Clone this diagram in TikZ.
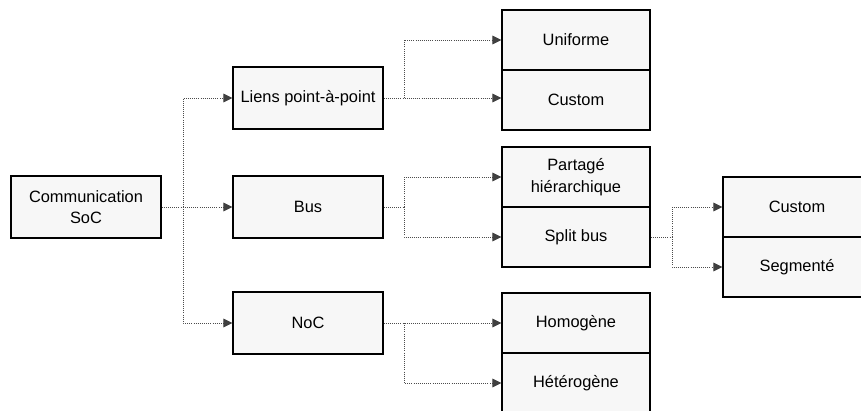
\documentclass[tikz,border=0pt]{standalone}
\usepackage{fontspec}
\setmainfont{Liberation Sans}
\usepackage{tikz}
\usetikzlibrary{arrows.meta, positioning, calc}

\begin{document}
\begin{tikzpicture}[
    x=0.03cm, y=-0.03cm,
    bloc/.style={
        rectangle, draw, line width=1pt, fill=gray!6,
        minimum width=4.5cm, minimum height=1.86cm,
        align=center, font=\fontsize{14}{18.5}\selectfont
    },
    feuille/.style={bloc, minimum width=4.44cm, minimum height=1.8cm},
    lien/.style={densely dotted, line width=0.8pt, gray!60!black},
    fleche/.style={lien, -{Triangle[length=0.27cm, width=0.26cm, color=gray!50!black]}}
]
\useasboundingbox (0,0) rectangle (861,410);

\node[bloc]    (soc)   at (86,207)   {Communication\\SoC};
\node[bloc]    (liens) at (308,98)   {Liens point-à-point};
\node[bloc]    (bus)   at (308,207)  {Bus};
\node[bloc]    (noc)   at (308,323)  {NoC};

\node[feuille] (unif)  at (576,40)   {Uniforme};
\node[feuille] (custA) at (576,100)  {Custom};
\node[feuille] (part)  at (576,177)  {Partagé\\hiérarchique};
\node[feuille] (split) at (576,237)  {Split bus};
\node[feuille] (homo)  at (576,323)  {Homogène};
\node[feuille] (hete)  at (576,383)  {Hétérogène};
\node[feuille] (custB) at (797,207)  {Custom};
\node[feuille] (segm)  at (797,267)  {Segmenté};

\coordinate (tronc)  at (183,207);
\coordinate (fourchA) at (404,98);
\coordinate (fourchB) at (404,207);
\coordinate (fourchC) at (404,323);
\coordinate (fourchD) at (672,237);

\draw[fleche] (soc) -- (bus);
\draw[fleche] (tronc) |- (liens);
\draw[fleche] (tronc) |- (noc);

\draw[fleche] (liens.east) -- (liens.east -| custA.west);
\draw[fleche] (fourchA) |- (unif);

\draw[lien] (bus) -- (fourchB);
\draw[fleche] (fourchB) |- (part);
\draw[fleche] (fourchB) |- (split);

\draw[fleche] (noc) -- (homo);
\draw[fleche] (fourchC) |- (hete);

\draw[lien] (split) -- (fourchD);
\draw[fleche] (fourchD) |- (custB);
\draw[fleche] (fourchD) |- (segm);
\end{tikzpicture}
\end{document}
